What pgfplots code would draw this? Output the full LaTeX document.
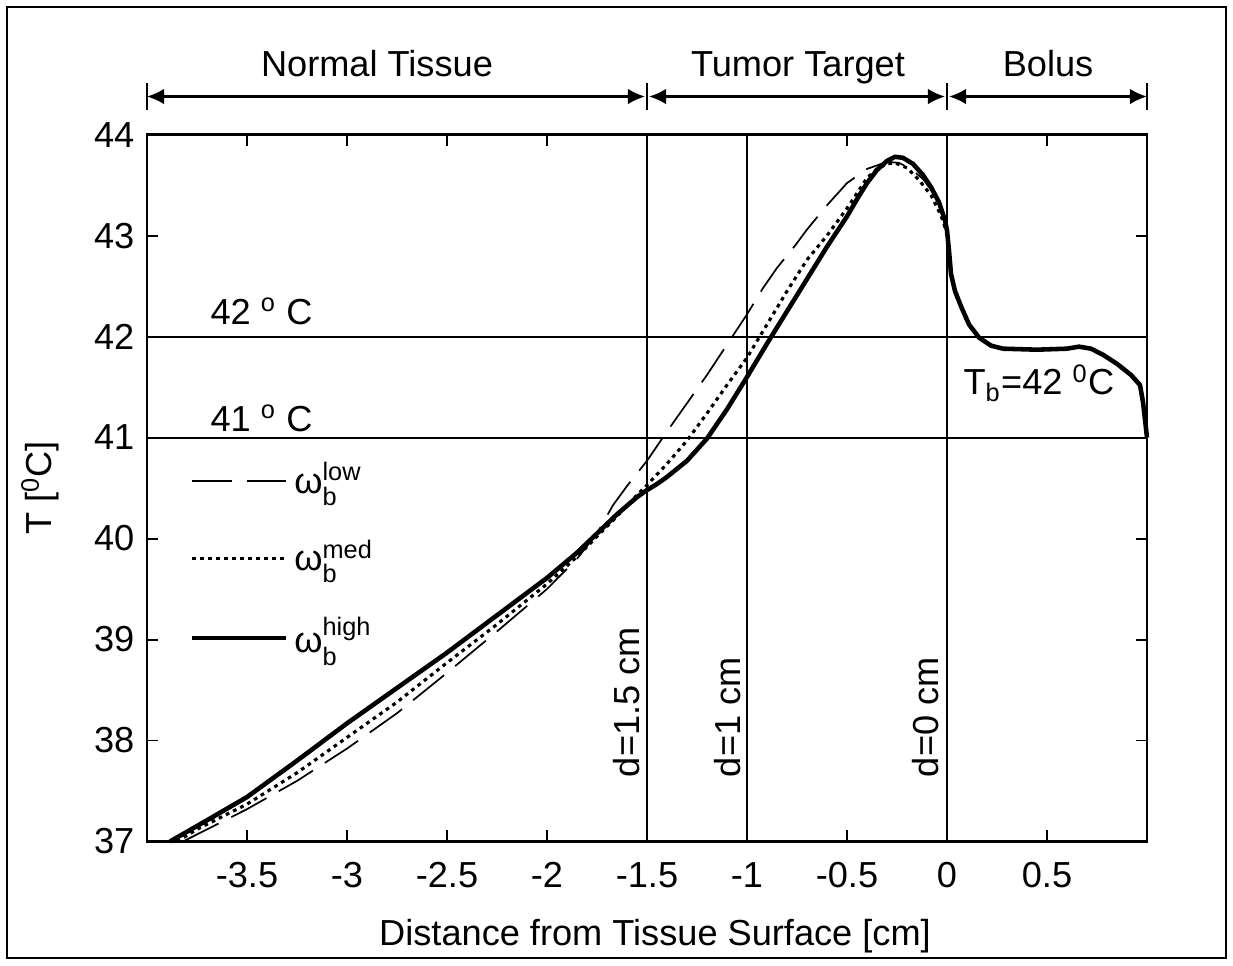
\documentclass[border=0pt]{standalone}
\usepackage{fontspec}
\setmainfont{Liberation Sans}
\usepackage{amsmath}
\usepackage{pgfplots}
\pgfplotsset{compat=1.18}
\usetikzlibrary{arrows.meta}

\pgfplotstableread{
x y
-3.885 37.00
-3.7 37.21
-3.5 37.44
-3.25 37.80
-3.0 38.17
-2.75 38.52
-2.5 38.87
-2.25 39.24
-2.0 39.61
-1.85 39.86
-1.75 40.05
-1.65 40.24
-1.55 40.41
-1.5 40.48
-1.45 40.54
-1.4 40.61
-1.3 40.77
-1.2 40.99
-1.1 41.28
-1.0 41.60
-0.9 41.93
-0.8 42.25
-0.7 42.57
-0.6 42.89
-0.5 43.19
-0.45 43.36
-0.4 43.52
-0.35 43.65
-0.3 43.74
-0.26 43.78
-0.22 43.77
-0.17 43.71
-0.12 43.60
-0.08 43.48
-0.04 43.33
-0.01 43.15
0.0 43.05
0.01 42.85
0.02 42.62
0.04 42.45
0.07 42.30
0.11 42.12
0.16 41.99
0.22 41.91
0.28 41.88
0.45 41.87
0.6 41.88
0.66 41.90
0.72 41.88
0.78 41.82
0.85 41.73
0.92 41.62
0.965 41.52
0.98 41.35
0.99 41.18
1.0 41.0
}\high

\pgfplotstableread{
x y
-3.85 37.00
-3.75 37.12
-3.5 37.37
-3.25 37.68
-3.0 38.03
-2.75 38.38
-2.5 38.77
-2.25 39.15
-2.0 39.55
-1.85 39.82
-1.75 40.02
-1.65 40.22
-1.55 40.43
-1.5 40.53
-1.4 40.74
-1.3 40.97
-1.2 41.24
-1.1 41.52
-1.0 41.79
-0.9 42.12
-0.8 42.45
-0.7 42.76
-0.6 43.00
-0.5 43.27
-0.45 43.42
-0.4 43.57
-0.35 43.66
-0.3 43.71
-0.26 43.72
-0.2 43.67
-0.14 43.55
-0.08 43.40
-0.03 43.20
0.0 43.02
0.01 42.85
0.02 42.62
0.04 42.45
0.07 42.30
0.11 42.12
0.16 41.99
0.22 41.91
0.28 41.88
0.45 41.87
0.6 41.88
0.66 41.90
0.72 41.88
0.78 41.82
0.85 41.73
0.92 41.62
0.965 41.52
0.98 41.35
0.99 41.18
1.0 41.0
}\med

\pgfplotstableread{
x y
-3.82 37.00
-3.7 37.12
-3.5 37.32
-3.25 37.60
-3.0 37.92
-2.75 38.27
-2.5 38.67
-2.25 39.08
-2.0 39.50
-1.85 39.80
-1.75 40.05
-1.67 40.33
-1.6 40.52
-1.5 40.77
-1.4 41.06
-1.3 41.34
-1.2 41.62
-1.1 41.92
-1.0 42.22
-0.92 42.48
-0.85 42.68
-0.76 42.90
-0.7 43.06
-0.6 43.30
-0.5 43.52
-0.4 43.66
-0.3 43.73
-0.24 43.72
-0.18 43.66
-0.12 43.56
-0.06 43.40
-0.02 43.20
0.0 43.04
0.01 42.85
0.02 42.62
0.04 42.45
0.07 42.30
0.11 42.12
0.16 41.99
0.22 41.91
0.28 41.88
0.45 41.87
0.6 41.88
0.66 41.90
0.72 41.88
0.78 41.82
0.85 41.73
0.92 41.62
0.965 41.52
0.98 41.35
0.99 41.18
1.0 41.0
}\low

\begin{document}
\fontsize{12.7}{15}\selectfont
\begin{tikzpicture}
\begin{axis}[
  scale only axis, width=351.05pt, height=248.15pt,
  xmin=-4, xmax=1, ymin=37, ymax=44,
  xtick={-3.5,-3,-2.5,-2,-1.5,-1,-0.5,0,0.5},
  xticklabels={-3.5,-3,-2.5,-2,-1.5,-1,-0.5,0,0.5},
  ytick={37,38,39,40,41,42,43,44},
  tick align=inside, major tick length=4pt,
  axis line style={line width=0.8pt},
  every tick/.style={black, line width=0.7pt},
  /pgf/number format/assume math mode=true,
  ticklabel style={font=\fontsize{12.7}{15}\selectfont},
  xticklabel style={yshift=-3pt},
  clip=false,
  xlabel={Distance from Tissue Surface [cm]},
  xlabel style={at={(axis cs:-1.46,36.063)}, anchor=center},
  ylabel={T [\textsuperscript{0}C]},
  ylabel style={at={(axis cs:-4.535,40.5)}, anchor=center},
  legend style={at={(axis cs:-3.83,40.87)}, anchor=north west, draw=none, fill=none,
    row sep=10.5pt, font=\fontsize{12.7}{15}\selectfont},
  legend cell align=left,
  legend image code/.code={\draw[#1] (0pt,0pt) -- (33pt,0pt);},
]
% reference lines
\draw[line width=0.7pt] (axis cs:-4,42) -- (axis cs:1,42);
\draw[line width=0.7pt] (axis cs:-4,41) -- (axis cs:1,41);
\draw[line width=0.7pt] (axis cs:-1.5,37) -- (axis cs:-1.5,44);
\draw[line width=0.7pt] (axis cs:-1,37) -- (axis cs:-1,44);
\draw[line width=0.7pt] (axis cs:0,37) -- (axis cs:0,44);

\addplot[black, line width=0.6pt, dash pattern=on 14pt off 5pt] table {\low};
\addlegendentry{$\text{ω}^{\text{low}}_{\text{b}}$}
\addplot[black, line width=1.1pt, dash pattern=on 1.3pt off 1.5pt] table {\med};
\addlegendentry{$\text{ω}^{\text{med}}_{\text{b}}$}
\addplot[black, line width=1.6pt] table {\high};
\addlegendentry{$\text{ω}^{\text{high}}_{\text{b}}$}

% region arrows
\draw[line width=0.7pt] (axis cs:-4,44.239) -- (axis cs:-4,44.515);
\draw[line width=0.7pt] (axis cs:-1.5,44.239) -- (axis cs:-1.5,44.515);
\draw[line width=0.7pt] (axis cs:0,44.239) -- (axis cs:0,44.515);
\draw[line width=0.7pt] (axis cs:1,44.239) -- (axis cs:1,44.515);
\draw[line width=0.8pt, {Latex[length=6pt,width=5.5pt]}-{Latex[length=6pt,width=5.5pt]}] (axis cs:-4,44.377) -- (axis cs:-1.51,44.377);
\draw[line width=0.8pt, {Latex[length=6pt,width=5.5pt]}-{Latex[length=6pt,width=5.5pt]}] (axis cs:-1.49,44.377) -- (axis cs:-0.01,44.377);
\draw[line width=0.8pt, {Latex[length=6pt,width=5.5pt]}-{Latex[length=6pt,width=5.5pt]}] (axis cs:0.01,44.377) -- (axis cs:1,44.377);
\node[anchor=base, inner sep=0pt] at (axis cs:-2.85,44.58) {Normal Tissue};
\node[anchor=base, inner sep=0pt] at (axis cs:-0.745,44.58) {Tumor Target};
\node[anchor=base, inner sep=0pt] at (axis cs:0.505,44.58) {Bolus};

% annotations
\node[anchor=west, inner sep=0pt] at (axis cs:-3.685,42.25) {42 \textsuperscript{o} C};
\node[anchor=west, inner sep=0pt] at (axis cs:-3.685,41.19) {41 \textsuperscript{o} C};
\node[rotate=90] at (axis cs:-1.6,38.38) {d=1.5 cm};
\node[rotate=90] at (axis cs:-1.095,38.23) {d=1 cm};
\node[rotate=90] at (axis cs:-0.105,38.23) {d=0 cm};
\node[anchor=west, inner sep=0pt] at (axis cs:0.08,41.54) {T\textsubscript{b}=42 \textsuperscript{0}C};

% outer frame
\draw[line width=0.8pt] (axis cs:-4.7,35.846) rectangle (axis cs:1.395,45.264);
\path (axis cs:-4.735,35.777) rectangle (axis cs:1.43,45.333);
\end{axis}
\end{tikzpicture}
\end{document}
